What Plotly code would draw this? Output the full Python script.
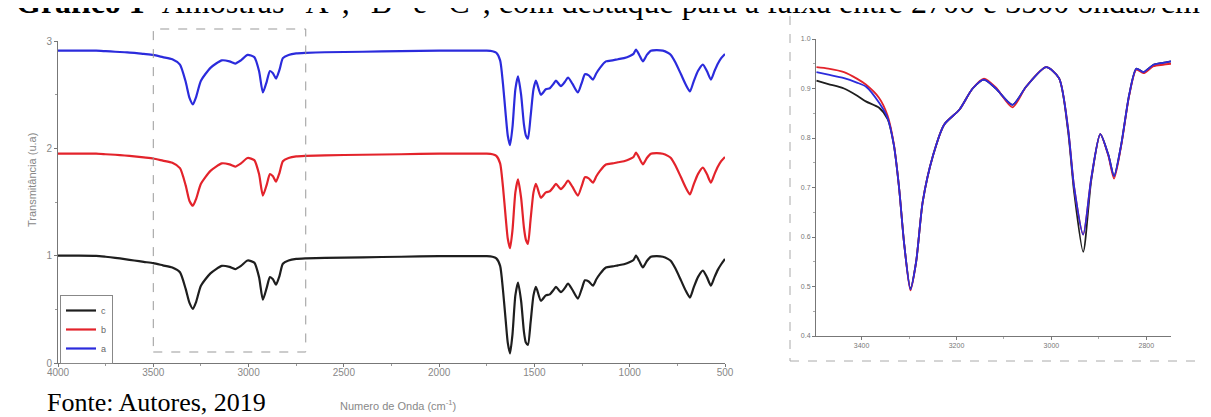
import plotly.graph_objects as go

# ---------------- data ----------------
wavenumber = [4000, 3900, 3800, 3750, 3700, 3650, 3600, 3550, 3500, 3450, 3400, 3360, 3330, 3310,
              3292, 3275, 3250, 3200, 3140, 3100, 3070, 3040, 3005, 2970, 2945, 2925, 2905, 2888,
              2872, 2856, 2838, 2820, 2790, 2750, 2700, 2600, 2400, 2200, 2000, 1900, 1800, 1750,
              1720, 1700, 1680, 1665, 1650, 1640, 1628, 1615, 1600, 1586, 1570, 1555, 1545, 1534,
              1520, 1505, 1492, 1466, 1440, 1419, 1400, 1387, 1361, 1340, 1324, 1300, 1272, 1250,
              1235, 1215, 1193, 1175, 1156, 1125, 1090, 1062, 1030, 999, 980, 967, 950, 931, 910,
              889, 860, 826, 800, 784, 760, 731, 705, 684, 665, 642, 616, 595, 574, 555, 537, 520, 500]

sample_a = [2.910, 2.910, 2.910, 2.905, 2.900, 2.895, 2.890, 2.880, 2.870, 2.850, 2.830, 2.780, 2.620, 2.470,
            2.410, 2.480, 2.630, 2.750, 2.820, 2.810, 2.790, 2.820, 2.870, 2.850, 2.720, 2.520, 2.620, 2.720,
            2.700, 2.650, 2.730, 2.840, 2.870, 2.885, 2.890, 2.895, 2.900, 2.905, 2.910, 2.910, 2.910, 2.910,
            2.905, 2.890, 2.820, 2.600, 2.300, 2.120, 2.030, 2.200, 2.550, 2.670, 2.500, 2.220, 2.120, 2.090,
            2.300, 2.550, 2.630, 2.500, 2.550, 2.560, 2.600, 2.630, 2.580, 2.620, 2.660, 2.600, 2.520, 2.620,
            2.690, 2.680, 2.640, 2.700, 2.750, 2.810, 2.820, 2.830, 2.840, 2.860, 2.880, 2.920, 2.870, 2.810, 2.870,
            2.910, 2.915, 2.910, 2.890, 2.870, 2.800, 2.690, 2.590, 2.530, 2.620, 2.720, 2.780, 2.720, 2.640, 2.720, 2.790, 2.840, 2.880]

sample_b = [1.950, 1.950, 1.950, 1.945, 1.940, 1.933, 1.925, 1.915, 1.905, 1.885, 1.865, 1.815, 1.655, 1.510,
            1.465, 1.530, 1.670, 1.790, 1.860, 1.850, 1.830, 1.860, 1.910, 1.890, 1.760, 1.560, 1.660, 1.760,
            1.740, 1.690, 1.770, 1.880, 1.910, 1.925, 1.930, 1.935, 1.940, 1.945, 1.950, 1.950, 1.950, 1.950,
            1.945, 1.930, 1.860, 1.640, 1.340, 1.160, 1.070, 1.240, 1.590, 1.710, 1.540, 1.260, 1.150, 1.110,
            1.340, 1.590, 1.670, 1.540, 1.590, 1.600, 1.640, 1.670, 1.620, 1.660, 1.700, 1.640, 1.560, 1.660,
            1.730, 1.720, 1.680, 1.740, 1.790, 1.850, 1.860, 1.870, 1.880, 1.900, 1.920, 1.960, 1.910, 1.850, 1.910,
            1.950, 1.955, 1.950, 1.930, 1.910, 1.840, 1.730, 1.630, 1.570, 1.660, 1.760, 1.820, 1.760, 1.680, 1.760, 1.830, 1.880, 1.920]

sample_c = [1.000, 1.000, 0.998, 0.990, 0.980, 0.968, 0.955, 0.942, 0.930, 0.910, 0.890, 0.845, 0.690, 0.560,
            0.505, 0.570, 0.720, 0.835, 0.905, 0.895, 0.875, 0.905, 0.955, 0.935, 0.800, 0.590, 0.700, 0.800,
            0.780, 0.730, 0.810, 0.925, 0.955, 0.970, 0.975, 0.980, 0.985, 0.990, 0.995, 0.995, 0.995, 0.995,
            0.990, 0.975, 0.905, 0.680, 0.380, 0.190, 0.090, 0.270, 0.630, 0.750, 0.580, 0.290, 0.190, 0.170,
            0.380, 0.630, 0.710, 0.580, 0.630, 0.640, 0.680, 0.710, 0.660, 0.700, 0.740, 0.680, 0.600, 0.700,
            0.770, 0.760, 0.720, 0.780, 0.830, 0.890, 0.900, 0.910, 0.920, 0.940, 0.960, 1.000, 0.950, 0.890, 0.950,
            0.990, 0.995, 0.990, 0.970, 0.950, 0.880, 0.770, 0.670, 0.610, 0.700, 0.800, 0.860, 0.800, 0.720, 0.800, 0.870, 0.920, 0.970]

# detail of the 3500-2700 region (inset)
zoom_wn = [3495, 3470, 3437, 3410, 3391, 3363, 3345, 3332, 3321, 3310, 3297, 3285, 3271, 3249, 3226,
           3194, 3166, 3142, 3117, 3082, 3053, 3011, 2984, 2965, 2952, 2933, 2916, 2897, 2880, 2868,
           2853, 2836, 2821, 2806, 2785, 2765, 2748]
zoom_red = [0.943, 0.940, 0.933, 0.920, 0.908, 0.881, 0.845, 0.788, 0.700, 0.584, 0.492, 0.550, 0.672, 0.766, 0.827,
            0.857, 0.900, 0.920, 0.902, 0.862, 0.904, 0.943, 0.921, 0.820, 0.700, 0.605, 0.719, 0.808, 0.764, 0.718,
            0.784, 0.886, 0.938, 0.931, 0.945, 0.948, 0.950]
zoom_blue = [0.933, 0.928, 0.921, 0.912, 0.904, 0.871, 0.840, 0.786, 0.700, 0.584, 0.494, 0.550, 0.672, 0.766, 0.827,
             0.857, 0.900, 0.918, 0.900, 0.867, 0.904, 0.943, 0.921, 0.820, 0.700, 0.605, 0.719, 0.808, 0.766, 0.723,
             0.786, 0.888, 0.940, 0.933, 0.948, 0.952, 0.955]
zoom_black = [0.916, 0.909, 0.900, 0.886, 0.874, 0.861, 0.838, 0.786, 0.700, 0.584, 0.496, 0.550, 0.672, 0.766, 0.827,
              0.857, 0.900, 0.918, 0.900, 0.867, 0.904, 0.943, 0.921, 0.815, 0.690, 0.570, 0.715, 0.808, 0.766, 0.723,
              0.786, 0.888, 0.940, 0.933, 0.948, 0.952, 0.955]

main_xticks = [4000, 3500, 3000, 2500, 2000, 1500, 1000, 500]
main_yticks = [0, 1, 2, 3]
zoom_xticks = [3400, 3200, 3000, 2800]
zoom_yticks = [0.4, 0.5, 0.6, 0.7, 0.8, 0.9, 1.0]
highlight = [3500, 2700]

BLACK = "#1e1e1e"
RED = "#e3232b"
BLUE = "#2b2bdc"

# ---------------- figure ----------------
W, H = 1211, 417
fig = go.Figure()

for name, ys, col in [("c", sample_c, BLACK), ("b", sample_b, RED), ("a", sample_a, BLUE)]:
    fig.add_trace(go.Scatter(x=wavenumber, y=ys, mode="lines", name=name,
                             line=dict(color=col, width=2.2, shape="spline", smoothing=0.6),
                             xaxis="x", yaxis="y"))

for ys, col in [(zoom_black, BLACK), (zoom_red, RED), (zoom_blue, BLUE)]:
    fig.add_trace(go.Scatter(x=zoom_wn, y=ys, mode="lines", showlegend=False,
                             line=dict(color=col, width=1.8, shape="spline", smoothing=0.7),
                             xaxis="x2", yaxis="y2"))

axis_common = dict(showline=True, linecolor="#777", linewidth=1, ticks="outside",
                   tickcolor="#777", showgrid=False, zeroline=False, automargin=False)

fig.update_layout(
    width=W, height=H,
    margin=dict(l=0, r=0, t=0, b=0, autoexpand=False),
    paper_bgcolor="white", plot_bgcolor="white",
    font=dict(family="Liberation Sans, Arial", color="#777"),
    xaxis=dict(domain=[50 / W, 717 / W], range=[4000, 500], anchor="y",
               tickvals=main_xticks, ticklen=3, tickfont=dict(size=10, color="#888"),
               ticklabelstandoff=-3,
               minor=dict(ticks="outside", ticklen=2, tickcolor="#999", dtick=250, tick0=500),
               **axis_common),
    yaxis=dict(domain=[1 - 355 / H, 1 - 33 / H], range=[0, 3], anchor="x",
               tickvals=main_yticks, ticklen=3, tickfont=dict(size=10, color="#888"),
               minor=dict(ticks="outside", ticklen=2, tickcolor="#999", dtick=0.5, tick0=0),
               **axis_common),
    xaxis2=dict(domain=[808 / W, 1163 / W], range=[3496, 2748], anchor="y2",
                tickvals=zoom_xticks, ticklen=3, tickfont=dict(size=7, color="#777"),
                minor=dict(ticks="outside", ticklen=2, tickcolor="#aaa", dtick=100, tick0=2800),
                **axis_common),
    yaxis2=dict(domain=[1 - 328 / H, 1 - 31 / H], range=[0.4, 1.0], anchor="x2",
                tickvals=zoom_yticks, tickformat=".1f", ticklen=3,
                tickfont=dict(size=7, color="#777"),
                minor=dict(ticks="outside", ticklen=2, tickcolor="#aaa", dtick=0.05, tick0=0.4),
                **axis_common),
    legend=dict(x=52 / W, y=1 - 287 / H, xanchor="left", yanchor="top",
                bordercolor="#888", borderwidth=1, bgcolor="white",
                font=dict(size=9, color="#666"), itemwidth=30, tracegroupgap=0),
    showlegend=True,
)

# highlighted band in main chart
fig.add_shape(type="rect", xref="x", yref="paper", x0=highlight[0], x1=highlight[1],
              y0=1 - 344 / H, y1=1 - 21 / H,
              line=dict(color="#999", width=1, dash="dash"), fillcolor="rgba(0,0,0,0)")

# dashed frame of the inset
fig.add_shape(type="line", xref="paper", yref="paper", x0=782 / W, x1=782 / W,
              y0=1 - 8 / H, y1=1 - 353 / H, line=dict(color="#aaa", width=1, dash="dash"))
fig.add_shape(type="line", xref="paper", yref="paper", x0=782 / W, x1=1207 / W,
              y0=1 - 353 / H, y1=1 - 353 / H, line=dict(color="#aaa", width=1, dash="dash"))

# texts
fig.add_annotation(xref="paper", yref="paper", x=6 / W, y=1 + 6 / H, xanchor="left", yanchor="middle",
                   showarrow=False,
                   text='<b>Gráfico 1-</b> Amostras "A", "B" e "C", com destaque para a faixa entre 2700 e 3500 ondas/cm',
                   font=dict(family="Liberation Serif, Times New Roman", size=32, color="black"))
fig.add_annotation(xref="paper", yref="paper", x=37 / W, y=1 - 394 / H, xanchor="left", yanchor="middle",
                   showarrow=False, text="Fonte: Autores, 2019",
                   font=dict(family="Liberation Serif, Times New Roman", size=26, color="black"))
fig.add_annotation(xref="paper", yref="paper", x=390 / W, y=1 - 397 / H, xanchor="center", yanchor="middle",
                   showarrow=False, text="Numero de Onda (cm<sup>-1</sup>)",
                   font=dict(size=11, color="#888"))
fig.add_annotation(xref="paper", yref="paper", x=24 / W, y=1 - 172 / H, xanchor="center", yanchor="middle",
                   showarrow=False, text="Transmitância (u.a)", textangle=-90,
                   font=dict(size=11, color="#888"))

fig.write_html("out.html")
